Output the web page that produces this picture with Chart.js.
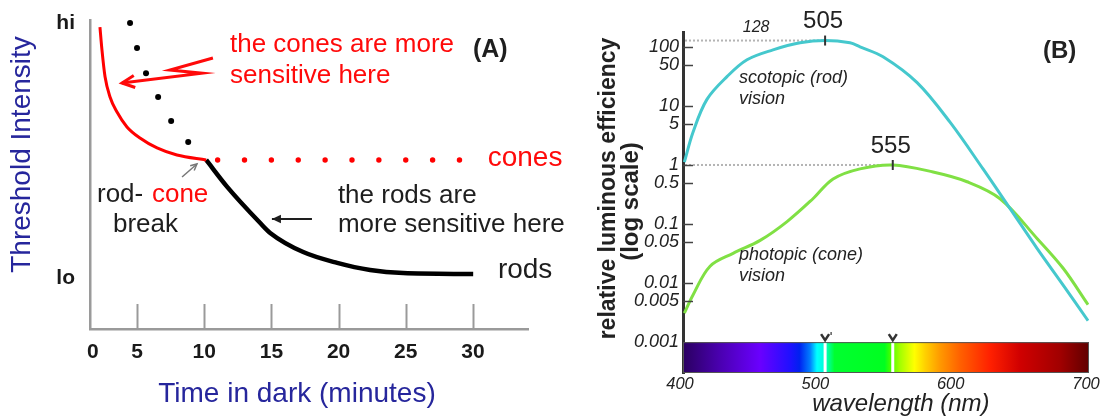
<!DOCTYPE html>
<html>
<head>
<meta charset="utf-8">
<script src="https://cdn.jsdelivr.net/npm/chart.js@4"></script>
<style>
  html, body { margin: 0; padding: 0; background: #fff; }
  #wrap { position: relative; width: 1100px; height: 419px; overflow: hidden; }
  canvas { position: absolute; top: 0; }
  #chartA { left: 0; }
  #chartB { left: 560px; }
</style>
</head>
<body>
<div id="wrap">
  <canvas id="chartA" width="600" height="419"></canvas>
  <canvas id="chartB" width="540" height="419"></canvas>
</div>
<script>
const FONT = '"Liberation Sans", Arial, Helvetica, sans-serif';
Chart.defaults.font.family = FONT;

// (A) dark adaptation: time in dark (minutes) vs threshold (0 = lo, 100 = hi)
const coneTime = [2.24, 2.39, 2.62, 2.99, 3.51, 4.25, 5.22, 6.49, 7.97, 10.15];
const coneThreshold = [97.7, 90.3, 81.6, 75.1, 70.2, 65.4, 61.8, 58.6, 56.3, 54.7];
const rodTime = [10.15, 11.71, 14.17, 14.91, 17.37, 19.9, 22.35, 24.81, 30.02];
const rodThreshold = [54.7, 46.0, 34.3, 31.1, 24.9, 21.4, 19.1, 18.1, 17.8];
const coneDotTime = [4.48, 5.0, 5.67, 6.57, 7.54, 8.81];
const coneDotThreshold = [99.0, 90.9, 82.8, 75.1, 67.3, 60.5];
const plateauTime = [11, 13, 15, 17, 19, 21, 23, 25, 27, 29];
const plateauThreshold = [54.7, 54.7, 54.7, 54.7, 54.7, 54.7, 54.7, 54.7, 54.7, 54.7];
const timeTicks = [1.72, 5, 10, 15, 20, 25, 30];
const timeTickLabels = ['0', '5', '10', '15', '20', '25', '30'];
const thresholdTicks = [16.5, 99];
const thresholdTickLabels = ['lo', 'hi'];

// (B) relative luminous efficiency vs wavelength (nm), log scale
const scotopicNm = [401, 407.4, 417.7, 432.5, 447.3, 466.5, 486.5, 505, 523.4, 530.8, 547.8, 573, 597.3, 621.7, 641.7, 661.6, 680.9, 699.3];
const scotopicEff = [1.12, 3.59, 12.9, 31.3, 60.5, 89, 117, 128, 117, 100, 68, 24.8, 5.3, 0.857, 0.182, 0.0388, 0.00925, 0.0023];
const photopicNm = [401, 407.4, 420, 437, 457, 476.9, 496, 510.9, 530.8, 555, 584.8, 609.9, 634.3, 661.6, 680.9, 699.3];
const photopicEff = [0.0031, 0.0063, 0.0193, 0.0319, 0.0528, 0.11, 0.268, 0.58, 0.86, 1.0, 0.76, 0.52, 0.268, 0.057, 0.0178, 0.0043];
const peakNm = [505, 555];
const peakEff = [128, 1];
const peakLabels = ['505', '555'];
const effTicks = [0.001, 0.005, 0.01, 0.05, 0.1, 0.5, 1, 5, 10, 50, 100];
const effTickLabels = ['0.001', '0.005', '0.01', '0.05', '0.1', '0.5', '1', '5', '10', '50', '100'];
const nmTicks = [400, 500, 600, 700];
const specNm = [400, 427, 457, 479, 486, 494, 499, 505, 512, 549, 553, 560, 571, 579, 590, 605, 627, 649, 679, 700];
const specColor = ['#2a0060', '#4a00b0', '#6a00ff', '#2010ff', '#0020f0', '#0080ff', '#00ffff', '#00ffd0', '#00ff30', '#00ff20',
  '#40ff00', '#a0ff00', '#ffff00', '#ffd000', '#ff9900', '#ff6000', '#ff2000', '#d00000', '#a00000', '#600000'];

const pts = (xs, ys) => xs.map((v, i) => ({ x: v, y: ys[i] }));

function text(ctx, str, x, y, font, color, align = 'left') {
  ctx.font = font;
  ctx.fillStyle = color;
  ctx.textAlign = align;
  ctx.textBaseline = 'middle';
  ctx.fillText(str, x, y);
}

function arrow(ctx, p, color, width, head, filled) {
  ctx.strokeStyle = color;
  ctx.fillStyle = color;
  ctx.lineWidth = width;
  ctx.lineJoin = 'miter';
  ctx.beginPath();
  ctx.moveTo(p[0][0], p[0][1]);
  for (let i = 1; i < p.length; i++) ctx.lineTo(p[i][0], p[i][1]);
  ctx.stroke();
  const [ax, ay] = p[p.length - 2];
  const [bx, by] = p[p.length - 1];
  const a = Math.atan2(by - ay, bx - ax);
  const l = [bx - head * Math.cos(a - 0.45), by - head * Math.sin(a - 0.45)];
  const r = [bx - head * Math.cos(a + 0.45), by - head * Math.sin(a + 0.45)];
  ctx.beginPath();
  ctx.moveTo(l[0], l[1]);
  ctx.lineTo(bx, by);
  ctx.lineTo(r[0], r[1]);
  if (filled) { ctx.closePath(); ctx.fill(); } else { ctx.stroke(); }
}

const annotA = {
  id: 'annotA',
  afterDraw(chart) {
    const { ctx, chartArea, scales: { x, y } } = chart;
    const P = (t, v) => [x.getPixelForValue(t), y.getPixelForValue(v)];
    ctx.save();
    // tick marks drawn inward from the time axis
    ctx.strokeStyle = '#9a9a9a';
    ctx.lineWidth = 2;
    timeTicks.filter((t) => t >= 5).forEach((t) => {
      const px = Math.round(x.getPixelForValue(t)) + 0.5;
      ctx.beginPath();
      ctx.moveTo(px, chartArea.bottom);
      ctx.lineTo(px, chartArea.bottom - 25);
      ctx.stroke();
    });

    const red = '#ff0a0a';
    const dark = '#1e1e1e';
    const f26 = `26px ${FONT}`;
    let p = P(11.92, 91.9); text(ctx, 'the cones are more', p[0], p[1], f26, red);
    p = P(11.92, 81.9); text(ctx, 'sensitive here', p[0], p[1], f26, red);
    p = P(30.0, 90.3); text(ctx, '(A)', p[0], p[1], `bold 25px ${FONT}`, dark);
    p = P(31.1, 55.3); text(ctx, 'cones', p[0], p[1], `28px ${FONT}`, red);
    p = P(2.02, 43.4); text(ctx, 'rod-', p[0], p[1], f26, dark);
    p = P(6.11, 43.4); text(ctx, 'cone', p[0], p[1], f26, red);
    p = P(3.21, 33.7); text(ctx, 'break', p[0], p[1], f26, dark);
    p = P(19.95, 43.0); text(ctx, 'the rods are', p[0], p[1], f26, dark);
    p = P(19.95, 33.7); text(ctx, 'more sensitive here', p[0], p[1], f26, dark);
    p = P(31.86, 19.1); text(ctx, 'rods', p[0], p[1], `28px ${FONT}`, dark);

    // lightning arrow, break pointer, rods pointer
    arrow(ctx, [P(10.65, 87.7), P(7.45, 83.8), P(9.83, 82.8), P(3.88, 79.6)], red, 3, 14, false);
    arrow(ctx, [P(8.35, 49.2), P(9.46, 53.4)], '#777', 1.5, 7, false);
    arrow(ctx, [P(18.02, 35.6), P(15.04, 35.6)], dark, 2, 10, true);

    // axis titles
    const blue = '#26269c';
    text(ctx, 'Time in dark (minutes)', (chartArea.left + chartArea.right) / 2 - 12, chartArea.bottom + 65, `28px ${FONT}`, blue, 'center');
    ctx.translate(22, (chartArea.top + chartArea.bottom) / 2 - 20);
    ctx.rotate(-Math.PI / 2);
    text(ctx, 'Threshold Intensity', 0, 0, `28px ${FONT}`, blue, 'center');
    ctx.restore();
  },
};

new Chart(document.getElementById('chartA'), {
  type: 'line',
  data: {
    datasets: [
      { data: pts(coneTime, coneThreshold), borderColor: '#ff0000', borderWidth: 3, pointRadius: 0, cubicInterpolationMode: 'monotone' },
      { data: pts(rodTime, rodThreshold), borderColor: '#000', borderWidth: 4.5, pointRadius: 0, cubicInterpolationMode: 'monotone' },
      { data: pts(coneDotTime, coneDotThreshold), showLine: false, pointRadius: 3, pointBorderWidth: 0, pointBackgroundColor: '#000' },
      { data: pts(plateauTime, plateauThreshold), showLine: false, pointRadius: 2.7, pointBorderWidth: 0, pointBackgroundColor: '#ff0000' },
    ],
  },
  options: {
    responsive: false,
    animation: false,
    devicePixelRatio: 1,
    layout: { padding: { top: 20, right: 72, left: 0, bottom: 0 } },
    plugins: { legend: { display: false }, tooltip: { enabled: false } },
    scales: {
      x: {
        type: 'linear', min: 1.5, max: 34.1,
        afterBuildTicks(s) { s.ticks = timeTicks.map((v) => ({ value: v })); },
        afterFit(s) { s.height = 90; s.paddingLeft = 0; s.paddingRight = 0; },
        grid: { display: false, drawTicks: false },
        border: { color: '#9a9a9a', width: 2.5 },
        ticks: { autoSkip: false, maxRotation: 0, padding: 11, color: '#1a1a1a', font: { size: 21, weight: 'bold' }, callback: (v, i) => timeTickLabels[i] },
      },
      y: {
        type: 'linear', min: 0, max: 100,
        afterBuildTicks(s) { s.ticks = thresholdTicks.map((v) => ({ value: v })); },
        afterFit(s) { s.width = 90; s.paddingTop = 0; s.paddingBottom = 0; },
        grid: { display: false, drawTicks: false },
        border: { color: '#9a9a9a', width: 2.5 },
        ticks: { autoSkip: false, padding: 15, color: '#1a1a1a', font: { size: 21, weight: 'bold' }, callback: (v, i) => thresholdTickLabels[i] },
      },
    },
  },
  plugins: [annotA],
});

const annotB = {
  id: 'annotB',
  beforeDatasetsDraw(chart) {
    const { ctx, chartArea, scales: { x, y } } = chart;
    const x0 = x.getPixelForValue(400);
    const x1 = x.getPixelForValue(700);
    const top = y.getPixelForValue(0.001);
    const g = ctx.createLinearGradient(x0, 0, x1, 0);
    specNm.forEach((nm, i) => g.addColorStop((nm - 400) / 300, specColor[i]));
    ctx.save();
    ctx.fillStyle = g;
    ctx.fillRect(x0, top, x1 - x0, chartArea.bottom - top);
    ctx.strokeStyle = '#555';
    ctx.lineWidth = 1;
    ctx.strokeRect(x0 + 0.5, top + 0.5, x1 - x0 - 1, chartArea.bottom - top - 1);
    // markers at the two peaks
    peakNm.forEach((nm, i) => {
      const px = x.getPixelForValue(nm);
      ctx.strokeStyle = '#fff';
      ctx.lineWidth = 3;
      ctx.beginPath();
      ctx.moveTo(px, top + 1);
      ctx.lineTo(px, chartArea.bottom - 1);
      ctx.stroke();
      ctx.strokeStyle = '#333';
      ctx.lineWidth = 2.5;
      ctx.beginPath();
      ctx.moveTo(px - 4, top - 8);
      ctx.lineTo(px, top - 2);
      ctx.lineTo(px + 4, top - 8);
      ctx.stroke();
      if (i === 0) {
        ctx.lineWidth = 1.2;
        ctx.beginPath();
        ctx.moveTo(px + 6, top - 10);
        ctx.lineTo(px + 6, top - 7);
        ctx.stroke();
      }
      // dotted reference line from the axis to the peak
      const py = y.getPixelForValue(peakEff[i]);
      ctx.strokeStyle = '#b4b4b4';
      ctx.lineWidth = 2;
      ctx.setLineDash([2, 2]);
      ctx.beginPath();
      ctx.moveTo(chartArea.left + 2, py);
      ctx.lineTo(px, py);
      ctx.stroke();
      ctx.setLineDash([]);
    });
    ctx.restore();
  },
  afterDraw(chart) {
    const { ctx, chartArea, scales: { x, y } } = chart;
    const P = (nm, v) => [x.getPixelForValue(nm), y.getPixelForValue(v)];
    const dark = '#222';
    ctx.save();
    // inward tick marks on the efficiency axis
    ctx.strokeStyle = '#444';
    ctx.lineWidth = 1.5;
    effTicks.filter((v) => v > 0.001).forEach((v) => {
      const py = Math.round(y.getPixelForValue(v)) + 0.5;
      ctx.beginPath();
      ctx.moveTo(chartArea.left, py);
      ctx.lineTo(chartArea.left + 10, py);
      ctx.stroke();
    });
    // peak ticks and labels
    peakNm.forEach((nm, i) => {
      const [px, py] = P(nm, peakEff[i]);
      ctx.strokeStyle = '#333';
      ctx.lineWidth = 2;
      ctx.beginPath();
      ctx.moveTo(px, py - 5);
      ctx.lineTo(px, py + 5);
      ctx.stroke();
      text(ctx, peakLabels[i], px - 2, py - 19, `24px ${FONT}`, dark, 'center');
    });
    let p = P(454, 209); text(ctx, '128', p[0], p[1], `italic 16px ${FONT}`, dark, 'center');
    const fi = `italic 18px ${FONT}`;
    p = P(441.4, 30.1); text(ctx, 'scotopic (rod)', p[0], p[1], fi, dark);
    p = P(441.4, 12.9); text(ctx, 'vision', p[0], p[1], fi, dark);
    p = P(441.4, 0.0296); text(ctx, 'photopic (cone)', p[0], p[1], fi, dark);
    p = P(441.4, 0.0131); text(ctx, 'vision', p[0], p[1], fi, dark);
    p = P(666, 82.4); text(ctx, '(B)', p[0], p[1], `bold 24px ${FONT}`, dark);

    text(ctx, 'wavelength (nm)', x.getPixelForValue(561), chartArea.bottom + 31, `italic 24px ${FONT}`, dark, 'center');
    const cy = (chartArea.top + chartArea.bottom) / 2;
    ctx.translate(chartArea.left - 74, cy - 14);
    ctx.rotate(-Math.PI / 2);
    text(ctx, 'relative luminous efficiency', 0, 0, `bold 23px ${FONT}`, dark, 'center');
    ctx.rotate(Math.PI / 2);
    ctx.translate(22, 13);
    ctx.rotate(-Math.PI / 2);
    text(ctx, '(log scale)', 0, 0, `bold 24px ${FONT}`, dark, 'center');
    ctx.restore();
  },
};

new Chart(document.getElementById('chartB'), {
  type: 'line',
  data: {
    datasets: [
      { data: pts(scotopicNm, scotopicEff), borderColor: '#45c8cd', borderWidth: 3, pointRadius: 0, tension: 0.35 },
      { data: pts(photopicNm, photopicEff), borderColor: '#80e044', borderWidth: 3, pointRadius: 0, tension: 0.35 },
    ],
  },
  options: {
    responsive: false,
    animation: false,
    devicePixelRatio: 1,
    layout: { padding: { top: 32, right: 11, left: 0, bottom: 0 } },
    plugins: { legend: { display: false }, tooltip: { enabled: false } },
    scales: {
      x: {
        type: 'linear', min: 400, max: 700,
        afterBuildTicks(s) { s.ticks = nmTicks.map((v) => ({ value: v })); },
        afterFit(s) { s.height = 46; s.paddingLeft = 0; s.paddingRight = 0; },
        grid: { display: false, drawTicks: false },
        border: { display: false },
        ticks: { autoSkip: false, maxRotation: 0, padding: 2, labelOffset: -3, color: '#222', font: { size: 16.5, style: 'italic' }, callback: (v) => String(v) },
      },
      y: {
        type: 'logarithmic', min: 0.000332, max: 178.6,
        afterBuildTicks(s) { s.ticks = effTicks.map((v) => ({ value: v })); },
        afterFit(s) { s.width = 123; s.paddingTop = 0; s.paddingBottom = 0; },
        grid: { display: false, drawTicks: false },
        border: { color: '#333', width: 3 },
        ticks: { autoSkip: false, padding: 4, color: '#222', font: { size: 18, style: 'italic' }, callback: (v, i) => effTickLabels[i] },
      },
    },
  },
  plugins: [annotB],
});
</script>
</body>
</html>
